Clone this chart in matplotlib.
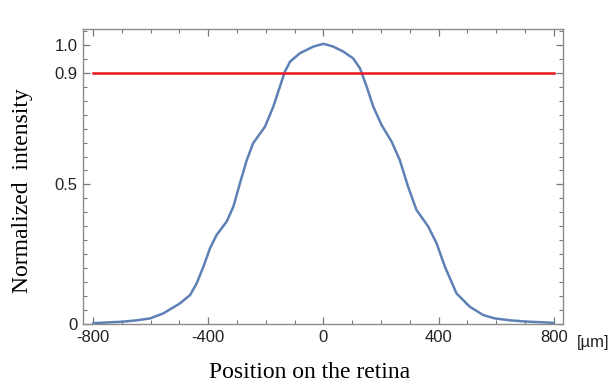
import matplotlib.pyplot as plt
from matplotlib.ticker import MultipleLocator, FixedLocator

# profile
position = [-800, -700, -650, -602, -556, -498, -463, -440, -417, -394, -371, -336, -313,
            -290, -266, -244, -203, -174, -151, -134, -116, -82, -35, 0,
            34, 69, 103, 127, 150, 173, 202, 237, 265, 294, 323, 364, 393, 422,
            462, 508, 555, 595, 650, 700, 800]
intensity = [0.003, 0.008, 0.013, 0.020, 0.038, 0.074, 0.104, 0.146, 0.205, 0.271, 0.319,
             0.367, 0.42, 0.504, 0.588, 0.648, 0.707, 0.779, 0.851, 0.904, 0.940, 0.970,
             0.994, 1.004, 0.994, 0.976, 0.952, 0.916, 0.851, 0.779, 0.713, 0.653, 0.588,
             0.492, 0.409, 0.349, 0.289, 0.205, 0.110, 0.062, 0.032, 0.020, 0.013, 0.009,
             0.004]
threshold = 0.9
x_ticks = [-800, -400, 0, 400, 800]
y_ticks = [0, 0.5, 0.9, 1.0]
y_tick_labels = ["0", "0.5", "0.9", "1.0"]

plt.rcParams['axes.unicode_minus'] = False

fig = plt.figure(figsize=(6.16, 3.87), dpi=100)
ax = fig.add_axes([83/616, 1 - 324/387, 480/616, 295/387])

ax.plot(position, intensity, color="#5E81B5", lw=1.8, solid_joinstyle="round",
        solid_capstyle="round")
ax.plot([x_ticks[0], x_ticks[-1]], [threshold, threshold], color="#E8161B", lw=1.8)

ax.set_xlim(-835, 832)
ax.set_ylim(0, 1.057)

ax.xaxis.set_major_locator(FixedLocator(x_ticks))
ax.xaxis.set_minor_locator(MultipleLocator(100))
ax.set_xticklabels([str(v) for v in x_ticks])
ax.yaxis.set_major_locator(FixedLocator(y_ticks))
ax.yaxis.set_minor_locator(MultipleLocator(0.05))
ax.set_yticklabels(y_tick_labels)

for sp in ax.spines.values():
    sp.set_color("#8c8c8c")
    sp.set_linewidth(1.0)
ax.tick_params(which="both", direction="in", top=True, right=True, color="#777777",
               labelsize=12, labelcolor="#222222")
ax.tick_params(which="major", length=5, width=0.9, pad=4)
ax.tick_params(which="minor", length=3, width=0.8)
for lab in ax.get_xticklabels() + ax.get_yticklabels():
    lab.set_family("Liberation Sans")

fig.text(577/616, 1 - 342/387, "[\u00b5m]", fontsize=12, family="Liberation Sans",
         color="#222222", va="center", ha="left")
fig.text(310/616, 1 - 372/387, "Position on the retina", fontsize=17,
         family="Liberation Serif", ha="center", va="center")
fig.text(23/616, 1 - 191/387, "Normalized  intensity", fontsize=17, rotation=90,
         family="Liberation Serif", ha="center", va="center")

plt.savefig("out.png", dpi=100)
